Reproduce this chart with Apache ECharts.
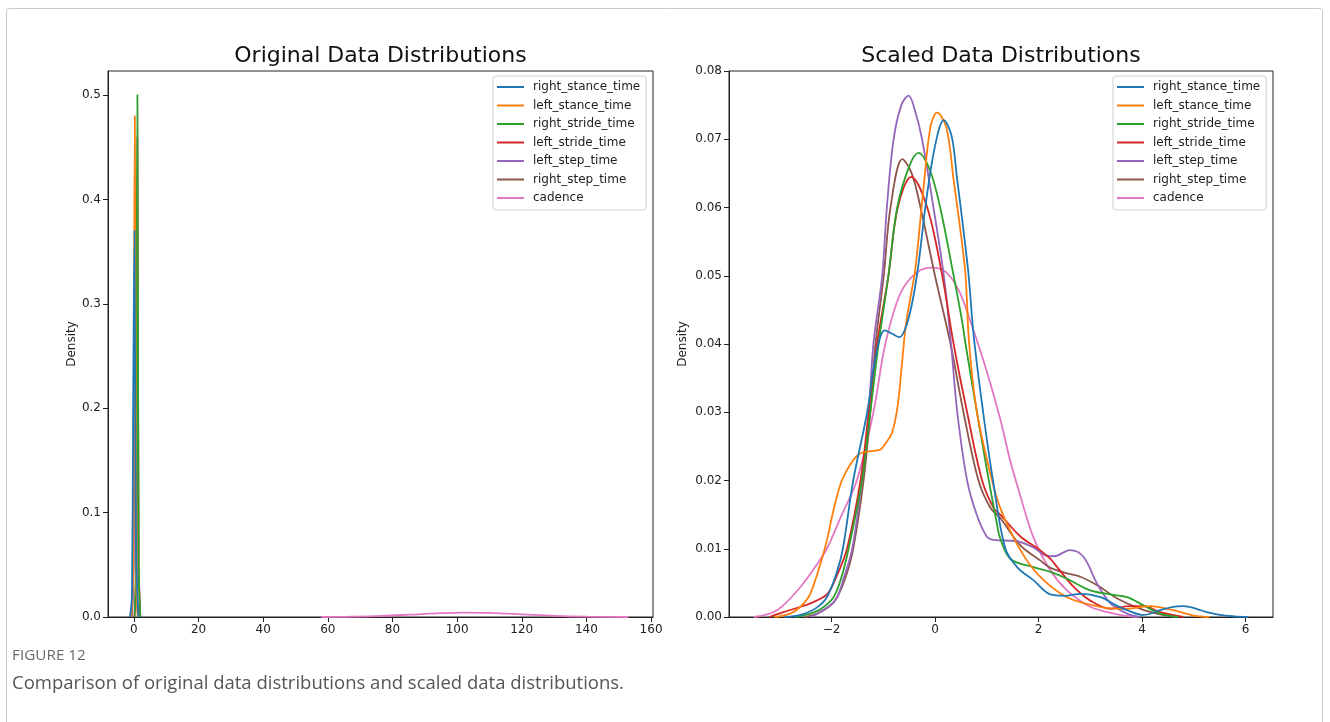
<!DOCTYPE html>
<html>
<head>
<meta charset="utf-8">
<script src="https://cdn.jsdelivr.net/npm/echarts@6/dist/echarts.min.js"></script>
<style>
  html, body { margin: 0; background: #fff; }
  #chart { width: 1330px; height: 722px; }
</style>
</head>
<body>
<div id="chart"></div>
<script>
const names = ['right_stance_time', 'left_stance_time', 'right_stride_time', 'left_stride_time',
  'left_step_time', 'right_step_time', 'cadence'];
const colors = ['#1f77b4', '#ff7f0e', '#2ca02c', '#d62728', '#9467bd', '#8c564b', '#e377c2'];

const origXTicks = [0, 20, 40, 60, 80, 100, 120, 140, 160];
const origYTicks = [0, 0.1, 0.2, 0.3, 0.4, 0.5];
const scaledXTicks = [-2, 0, 2, 4, 6];

// left panel: raw values, [x, density]
const origRightStance = [[-1.2, 0], [-0.6, 0.02], [-0.2, 0.21], [0.2, 0.37], [0.7, 0.06], [1.4, 0]];
const origLeftStance = [[-0.8, 0], [-0.2, 0.05], [0.3, 0.48], [0.8, 0.03], [1.2, 0]];
const origRightStride = [[0.2, 0], [0.7, 0.05], [1.1, 0.5], [1.5, 0.05], [2.0, 0]];
const origLeftStride = [[0.2, 0], [0.7, 0.05], [1.1, 0.46], [1.5, 0.05], [2.0, 0]];
const origLeftStep = [[-0.6, 0], [-0.1, 0.05], [0.4, 0.33], [0.9, 0.03], [1.3, 0]];
const origRightStep = [[-0.6, 0], [-0.1, 0.05], [0.4, 0.3], [0.9, 0.03], [1.3, 0]];
const origCadence = [[58, 0], [65, 0.0002], [75, 0.0009], [85, 0.0022], [95, 0.0037], [102, 0.0042],
  [110, 0.0039], [120, 0.0026], [130, 0.0011], [140, 0.0003], [153, 0]];

// right panel: standardised values
const scaledRightStance = [[-2.9, 0], [-2.6, 0.0003], [-2.3, 0.0013], [-2.09, 0.0029], [-1.9, 0.0065],
  [-1.78, 0.01], [-1.58, 0.02], [-1.31, 0.03], [-1.15, 0.038], [-0.97, 0.042], [-0.83, 0.0415],
  [-0.69, 0.041], [-0.52, 0.0435], [-0.35, 0.05], [-0.17, 0.061], [0.0, 0.069], [0.17, 0.0728],
  [0.32, 0.0705], [0.43, 0.064], [0.55, 0.0567], [0.65, 0.05], [0.75, 0.041], [0.93, 0.03],
  [1.12, 0.02], [1.36, 0.01], [1.6, 0.0072], [1.9, 0.0054], [2.23, 0.0033], [2.5, 0.0031],
  [2.81, 0.0034], [3.2, 0.0029], [3.5, 0.0017], [3.71, 0.001], [4.03, 0.0003], [4.35, 0.001],
  [4.6, 0.0015], [4.8, 0.0016], [5.05, 0.0012], [5.25, 0.0007], [5.5, 0.0003], [5.77, 0.0001], [6.05, 0]];
const scaledLeftStance = [[-3.1, 0], [-2.8, 0.0005], [-2.6, 0.0015], [-2.41, 0.0034], [-2.13, 0.01],
  [-1.95, 0.016], [-1.8, 0.02], [-1.6, 0.0228], [-1.44, 0.024], [-1.25, 0.0243], [-1.06, 0.0245],
  [-0.95, 0.0255], [-0.83, 0.027], [-0.72, 0.031], [-0.64, 0.037], [-0.56, 0.043], [-0.47, 0.047],
  [-0.38, 0.051], [-0.22, 0.063], [-0.09, 0.0717], [0.04, 0.0739], [0.22, 0.0717], [0.36, 0.064],
  [0.49, 0.0567], [0.59, 0.05], [0.66, 0.04], [0.81, 0.03], [1.07, 0.021], [1.26, 0.016],
  [1.65, 0.0098], [2.03, 0.0059], [2.55, 0.0029], [3.19, 0.0015], [3.71, 0.0012], [4.16, 0.0016],
  [4.6, 0.001], [5.0, 0.0002], [5.3, 0]];
const scaledRightStride = [[-2.7, 0], [-2.41, 0.0005], [-2.2, 0.0012], [-1.96, 0.0029], [-1.8, 0.006],
  [-1.67, 0.01], [-1.41, 0.02], [-1.25, 0.03], [-1.09, 0.04], [-0.9, 0.05], [-0.73, 0.06],
  [-0.5, 0.066], [-0.32, 0.068], [-0.1, 0.0655], [0.1, 0.06], [0.36, 0.05], [0.52, 0.0435],
  [0.59, 0.04], [0.81, 0.03], [1.04, 0.02], [1.2, 0.0135], [1.26, 0.0115], [1.46, 0.0085],
  [1.9, 0.0073], [2.23, 0.0066], [2.55, 0.0056], [3.0, 0.0039], [3.39, 0.0033], [3.71, 0.0029],
  [4.03, 0.0017], [4.35, 0.0005], [4.7, 0]];
const scaledLeftStride = [[-3.2, 0], [-2.93, 0.0007], [-2.6, 0.0015], [-2.41, 0.002], [-2.09, 0.0033],
  [-1.9, 0.006], [-1.7, 0.01], [-1.44, 0.02], [-1.28, 0.03], [-1.12, 0.04], [-0.9, 0.05],
  [-0.72, 0.06], [-0.46, 0.0645], [-0.15, 0.06], [0.14, 0.05], [0.36, 0.04], [0.62, 0.03],
  [0.91, 0.02], [1.13, 0.016], [1.26, 0.015], [1.65, 0.0118], [2.03, 0.0098], [2.23, 0.0085],
  [2.36, 0.0073], [2.68, 0.0044], [3.0, 0.0024], [3.39, 0.0012], [3.77, 0.0016], [4.03, 0.0016],
  [4.35, 0.0007], [4.8, 0]];
const scaledLeftStep = [[-2.4, 0], [-2.22, 0.0007], [-1.93, 0.0024], [-1.75, 0.006], [-1.6, 0.01],
  [-1.41, 0.02], [-1.28, 0.03], [-1.19, 0.04], [-1.02, 0.05], [-0.93, 0.06], [-0.8, 0.07],
  [-0.65, 0.075], [-0.51, 0.0764], [-0.38, 0.074], [-0.25, 0.07], [-0.03, 0.06], [0.17, 0.05],
  [0.31, 0.04], [0.43, 0.03], [0.62, 0.02], [0.81, 0.0149], [1.0, 0.0118], [1.13, 0.0113],
  [1.58, 0.0111], [1.9, 0.0102], [2.15, 0.009], [2.3, 0.0089], [2.61, 0.0098], [2.87, 0.0088],
  [3.13, 0.0049], [3.39, 0.002], [3.71, 0.0005], [3.95, 0]];
const scaledRightStep = [[-2.5, 0], [-2.28, 0.0005], [-2.05, 0.0015], [-1.89, 0.0029], [-1.72, 0.006],
  [-1.58, 0.01], [-1.38, 0.02], [-1.25, 0.03], [-1.15, 0.04], [-0.99, 0.05], [-0.86, 0.06],
  [-0.63, 0.0671], [-0.45, 0.065], [-0.28, 0.06], [0.0, 0.05], [0.3, 0.04], [0.55, 0.03],
  [0.84, 0.02], [1.07, 0.016], [1.26, 0.0145], [1.65, 0.0105], [2.03, 0.0083], [2.23, 0.0072],
  [2.55, 0.0064], [2.81, 0.0059], [3.19, 0.0044], [3.52, 0.0027], [3.97, 0.0012], [4.35, 0.0004], [4.7, 0]];
const scaledCadence = [[-3.5, 0], [-3.05, 0.001], [-2.6, 0.0044], [-2.3, 0.0075], [-2.09, 0.01],
  [-1.8, 0.015], [-1.51, 0.02], [-1.19, 0.03], [-0.96, 0.04], [-0.67, 0.0474], [-0.35, 0.0505],
  [-0.06, 0.0512], [0.2, 0.0506], [0.45, 0.048], [0.7, 0.043], [1.0, 0.036], [1.26, 0.029],
  [1.45, 0.023], [1.62, 0.0185], [1.9, 0.0117], [2.23, 0.0068], [2.55, 0.0039],
  [3.0, 0.0015], [3.52, 0.0004], [3.9, 0]];

const origCurves = [origRightStance, origLeftStance, origRightStride, origLeftStride,
  origLeftStep, origRightStep, origCadence];
const scaledCurves = [scaledRightStance, scaledLeftStance, scaledRightStride, scaledLeftStride,
  scaledLeftStep, scaledRightStep, scaledCadence];

const axisColor = '#222';
const tickFont = { fontFamily: 'DejaVu Sans', fontSize: 12, color: '#222' };

function makeSeries(curves, gridIdx) {
  // drawn last-to-first so right_stance_time ends up on top, like seaborn
  const out = [];
  for (let i = names.length - 1; i >= 0; i--) {
    out.push({
      name: names[i],
      type: 'line',
      xAxisIndex: gridIdx,
      yAxisIndex: gridIdx,
      data: curves[i],
      showSymbol: false,
      symbol: 'none',
      smooth: 0.35,
      lineStyle: { width: 1.8, color: colors[i] },
      itemStyle: { color: colors[i] },
      emphasis: { disabled: true },
      silent: true
    });
  }
  return out;
}

function makeLegend(left) {
  return {
    data: names,
    orient: 'vertical',
    left: left,
    top: 76,
    icon: 'rect',
    itemWidth: 27,
    itemHeight: 2,
    itemGap: 4.5,
    padding: [4, 6, 5, 4],
    borderColor: '#d0d0d0',
    borderWidth: 1,
    borderRadius: 3,
    backgroundColor: 'rgba(255,255,255,0.8)',
    selectedMode: false,
    textStyle: { fontFamily: 'DejaVu Sans', fontSize: 12, color: '#222', lineHeight: 14, padding: [0, 0, 0, 4] }
  };
}

function xAxisOf(gridIdx, min, max, ticks) {
  return {
    type: 'value', gridIndex: gridIdx, min: min, max: max,
    splitLine: { show: false },
    axisLine: { onZero: false, lineStyle: { color: axisColor, width: 1 } },
    axisTick: { length: 5, customValues: ticks, lineStyle: { color: axisColor } },
    axisLabel: Object.assign({
      customValues: ticks, margin: 7,
      formatter: v => String(v).replace('-', '\u2212')
    }, tickFont)
  };
}

function yAxisOf(gridIdx, max, extra, gap) {
  return Object.assign({
    type: 'value', gridIndex: gridIdx, min: 0, max: max,
    name: 'Density', nameLocation: 'middle', nameGap: gap,
    nameTextStyle: { fontFamily: 'DejaVu Sans', fontSize: 12, color: '#222' },
    splitLine: { show: false },
    axisLine: { show: true, onZero: false, lineStyle: { color: axisColor } }
  }, extra);
}

const chart = echarts.init(document.getElementById('chart'));
chart.setOption({
  animation: false,
  backgroundColor: '#fff',
  graphic: [
    { type: 'rect', shape: { x: 6.5, y: 8.5, width: 1316, height: 720, r: 3 },
      style: { fill: 'none', stroke: '#c8c8c8', lineWidth: 1 }, silent: true },
    { type: 'text', x: 380.5, y: 56, style: { text: 'Original Data Distributions',
      font: '22px "DejaVu Sans"', fill: '#111', textAlign: 'center', textVerticalAlign: 'middle' } },
    { type: 'text', x: 1001, y: 56, style: { text: 'Scaled Data Distributions',
      font: '22px "DejaVu Sans"', fill: '#111', textAlign: 'center', textVerticalAlign: 'middle' } },
    { type: 'text', x: 12, y: 656, style: { text: 'FIGURE 12',
      font: '15.3px "Open Sans"', fill: '#6b6b6b', textAlign: 'left', textVerticalAlign: 'middle' } },
    { type: 'text', x: 12, y: 684, style: { text: 'Comparison of original data distributions and scaled data distributions.',
      font: '18.5px "Open Sans"', fill: '#555', textAlign: 'left', textVerticalAlign: 'middle' } }
  ],
  legend: [makeLegend(493), makeLegend(1113)],
  grid: [
    { left: 108, top: 71, width: 545, height: 546, show: true, borderColor: axisColor, borderWidth: 1 },
    { left: 729, top: 71, width: 544, height: 546, show: true, borderColor: axisColor, borderWidth: 1 }
  ],
  xAxis: [
    xAxisOf(0, -8, 160.6, origXTicks),
    xAxisOf(1, -3.98, 6.53, scaledXTicks)
  ],
  yAxis: [
    yAxisOf(0, 0.523, {
      axisTick: { show: true, length: 5, customValues: origYTicks, lineStyle: { color: axisColor } },
      axisLabel: Object.assign({ customValues: origYTicks, margin: 7, formatter: v => v.toFixed(1) }, tickFont)
    }, 30),
    yAxisOf(1, 0.08, {
      interval: 0.01,
      axisTick: { show: true, length: 5, lineStyle: { color: axisColor } },
      axisLabel: Object.assign({ margin: 7, formatter: v => v.toFixed(2) }, tickFont)
    }, 40)
  ],
  series: makeSeries(origCurves, 0).concat(makeSeries(scaledCurves, 1))
});
</script>
</body>
</html>
